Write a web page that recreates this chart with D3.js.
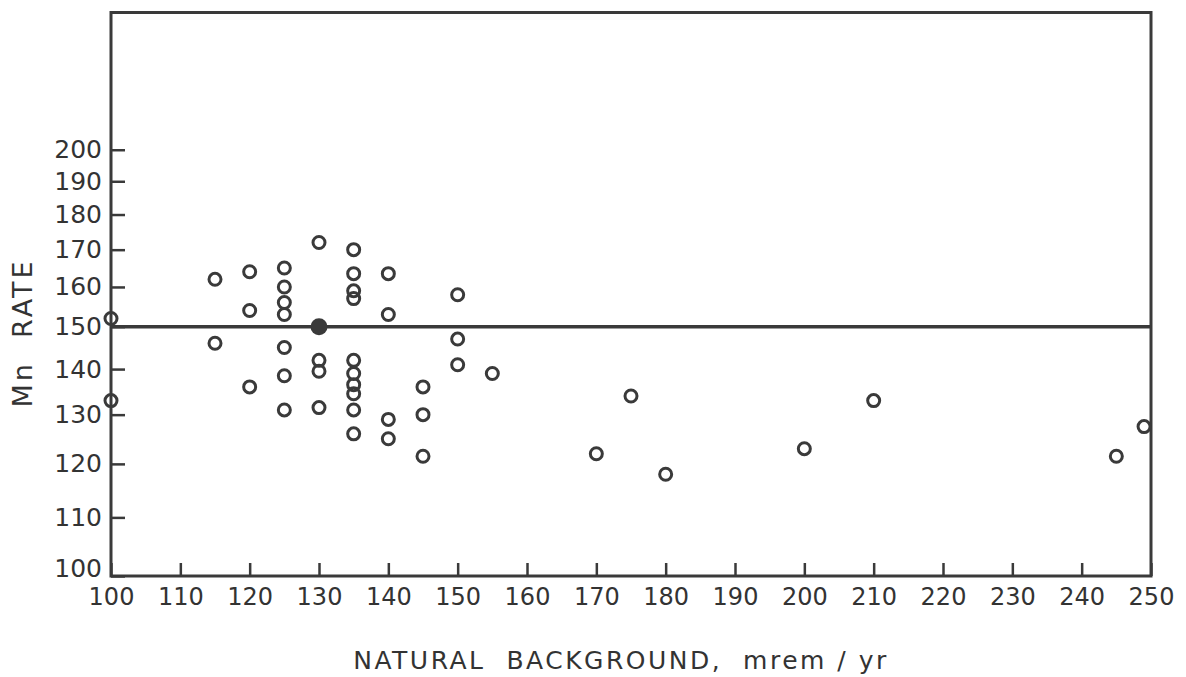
<!DOCTYPE html>
<html>
<head>
<meta charset="utf-8">
<script src="https://cdn.jsdelivr.net/npm/d3@7"></script>
<style>
  body { margin: 0; background: #fff; }
  svg { display: block; }
  text { font-family: "DejaVu Sans", sans-serif; fill: #333; }
</style>
</head>
<body>
<svg id="chart" width="1186" height="677"></svg>
<script>
// x = natural background (mrem/yr), y = Mn rate
var xValues = [100, 100, 115, 115, 120, 120, 120,
  125, 125, 125, 125, 125, 125, 125,
  130, 130, 130, 130,
  135, 135, 135, 135, 135, 135, 135, 135, 135, 135,
  140, 140, 140, 140,
  145, 145, 145,
  150, 150, 150,
  155, 170, 175, 180, 200, 210, 245, 249];
var yValues = [152, 133, 162, 146, 164, 154, 136,
  165, 160, 156, 153, 145, 138.5, 131,
  172, 142, 139.5, 131.5,
  170, 163.5, 159, 157, 142, 139, 136.5, 134.5, 131, 126,
  163.5, 153, 129, 125,
  136, 130, 121.5,
  158, 147, 141,
  139, 122, 134, 118, 123, 133, 121.5, 127.5];

// the one filled point sitting on the reference line
var meanX = [130];
var meanY = [150];
var refLine = 150;

var xTicks = [100, 110, 120, 130, 140, 150, 160, 170, 180, 190, 200, 210, 220, 230, 240, 250];
var yTicks = [100, 110, 120, 130, 140, 150, 160, 170, 180, 190, 200];

var ink = "#3a3a3a";

var svg = d3.select("#chart");

var x = d3.scaleLinear().domain([100, 250]).range([111, 1151]);
var y = d3.scaleLog().domain([100, 250]).range([576, 12.5]);

// axes (ticks point inward like the original)
var yAxis = svg.append("g")
  .attr("transform", "translate(" + x(100) + ",0)")
  .call(d3.axisLeft(y).tickValues(yTicks).tickFormat(d3.format("d"))
    .tickSizeInner(-14).tickSizeOuter(0).tickPadding(9));

var xAxis = svg.append("g")
  .attr("transform", "translate(0," + y(100) + ")")
  .call(d3.axisBottom(x).tickValues(xTicks).tickFormat(d3.format("d"))
    .tickSizeInner(-13).tickSizeOuter(0).tickPadding(12));

[yAxis, xAxis].forEach(function (g) {
  g.select(".domain").remove();
  g.selectAll(".tick line").attr("stroke", ink).attr("stroke-width", 2.5);
  g.selectAll(".tick text").style("font-size", "24px").attr("fill", "#333");
});
yAxis.selectAll(".tick text").style("font-size", "25px");
// lift the bottom y label off the corner
yAxis.selectAll(".tick text").filter(function (d) { return d === 100; }).attr("dy", "0.0em");

// frame
svg.append("rect")
  .attr("x", x(100))
  .attr("y", y(250))
  .attr("width", x(250) - x(100))
  .attr("height", y(100) - y(250))
  .attr("fill", "none")
  .attr("stroke", ink)
  .attr("stroke-width", 3);

// horizontal reference line
svg.append("line")
  .attr("x1", x(100))
  .attr("x2", x(250))
  .attr("y1", y(refLine))
  .attr("y2", y(refLine))
  .attr("stroke", ink)
  .attr("stroke-width", 3.5);

var pts = xValues.map(function (v, i) { return { x: v, y: yValues[i] }; });

svg.selectAll(".dot")
  .data(pts)
  .enter()
  .append("circle")
  .attr("class", "dot")
  .attr("cx", function (d) { return x(d.x); })
  .attr("cy", function (d) { return y(d.y); })
  .attr("r", 6)
  .attr("fill", "none")
  .attr("stroke", ink)
  .attr("stroke-width", 3);

svg.selectAll(".mean")
  .data(meanX.map(function (v, i) { return { x: v, y: meanY[i] }; }))
  .enter()
  .append("circle")
  .attr("class", "mean")
  .attr("cx", function (d) { return x(d.x); })
  .attr("cy", function (d) { return y(d.y); })
  .attr("r", 8.5)
  .attr("fill", ink);

// axis titles
svg.append("text")
  .attr("x", 621)
  .attr("y", 669)
  .attr("text-anchor", "middle")
  .style("font-size", "25px")
  .style("letter-spacing", "2.5px")
  .style("white-space", "pre")
  .text("NATURAL  BACKGROUND,  mrem / yr");

svg.append("text")
  .attr("transform", "translate(32,333) rotate(-90)")
  .attr("text-anchor", "middle")
  .style("font-size", "27px")
  .style("letter-spacing", "3px")
  .style("white-space", "pre")
  .text("Mn  RATE");
</script>
</body>
</html>
